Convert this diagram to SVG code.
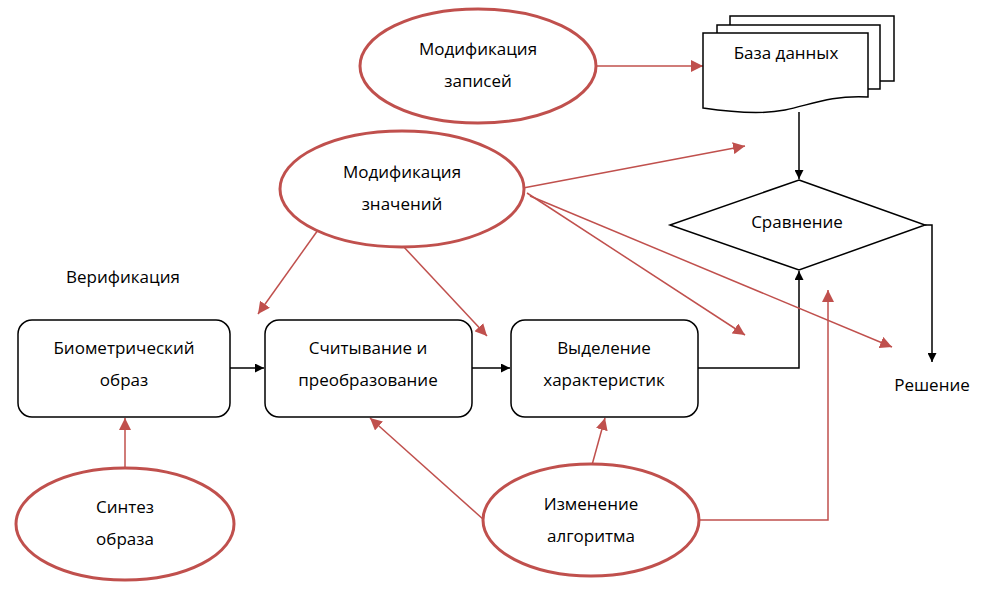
<svg xmlns="http://www.w3.org/2000/svg" width="994" height="600" viewBox="0 0 994 600">
<style>
text{font-family:"Open Sans","Liberation Sans",sans-serif;font-size:17px;fill:#000;text-anchor:middle}
.box{fill:#fff;stroke:#000;stroke-width:1.5}
.ell{fill:#fff;stroke:#c0504d;stroke-width:3}
.b{stroke:#000;stroke-width:1.5;fill:none}
.r{stroke:#c0504d;stroke-width:1.5;fill:none}
</style>
<defs>
<marker id="ab" viewBox="0 0 10 10" refX="10" refY="5" markerWidth="9" markerHeight="9" markerUnits="userSpaceOnUse" orient="auto"><path d="M0,0L10,5L0,10z" fill="#000"/></marker>
<marker id="ar" viewBox="0 0 10 10" refX="10" refY="5" markerWidth="12" markerHeight="12" markerUnits="userSpaceOnUse" orient="auto"><path d="M0,0L10,5L0,10z" fill="#c0504d"/></marker>
</defs>
<rect width="994" height="600" fill="#fff"/>
<g id="connectors">
<path class="b" d="M230,368H264" marker-end="url(#ab)"/>
<path class="b" d="M472,368H510" marker-end="url(#ab)"/>
<path class="b" d="M698,368H799V271" marker-end="url(#ab)"/>
<path class="b" d="M799,112V179" marker-end="url(#ab)"/>
<path class="b" d="M925,225H932V362" marker-end="url(#ab)"/>
<path class="r" d="M597,66H703" marker-end="url(#ar)"/>
<path class="r" d="M523,188L745,146" marker-end="url(#ar)"/>
<path class="r" d="M318,230L258,314" marker-end="url(#ar)"/>
<path class="r" d="M402,245L487,336" marker-end="url(#ar)"/>
<path class="r" d="M527,193L745,335" marker-end="url(#ar)"/>
<path class="r" d="M530,196L892,347" marker-end="url(#ar)"/>
<path class="r" d="M125,468V418" marker-end="url(#ar)"/>
<path class="r" d="M484,520L370,418" marker-end="url(#ar)"/>
<path class="r" d="M592,465L605,418" marker-end="url(#ar)"/>
<path class="r" d="M700,520H828V290" marker-end="url(#ar)"/>
</g>
<text x="123" y="283">Верификация</text>
<g id="bio"><rect class="box" x="18" y="320" width="212" height="97" rx="14"/><text x="124" y="354">Биометрический</text><text x="124" y="386">образ</text></g>
<g id="read"><rect class="box" x="265" y="320" width="207" height="97" rx="14"/><text x="368" y="354">Считывание и</text><text x="368" y="386">преобразование</text></g>
<g id="feat"><rect class="box" x="511" y="320" width="187" height="97" rx="14"/><text x="604" y="354">Выделение</text><text x="604" y="386">характеристик</text></g>
<g id="synth"><ellipse class="ell" cx="125" cy="524" rx="109" ry="56"/><text x="125" y="513">Синтез</text><text x="125" y="545">образа</text></g>
<g id="alg"><ellipse class="ell" cx="591" cy="520" rx="108" ry="56"/><text x="591" y="510">Изменение</text><text x="591" y="542">алгоритма</text></g>
<g id="vals"><ellipse class="ell" cx="402" cy="189" rx="122" ry="58"/><text x="402" y="178">Модификация</text><text x="402" y="210">значений</text></g>
<g id="recs"><ellipse class="ell" cx="478" cy="66" rx="118" ry="57"/><text x="478" y="55">Модификация</text><text x="478" y="87">записей</text></g>
<g id="db">
<rect class="box" x="730" y="16" width="164" height="65"/>
<rect class="box" x="717" y="25" width="163" height="64"/>
<path class="box" d="M703,33H868V97C830,95 810,105 785,110C760,115 730,112 703,108Z"/>
<text x="786" y="59">База данных</text>
</g>
<g id="cmp"><path class="box" d="M799,180L925,225L799,270L670,225Z"/><text x="797" y="228">Сравнение</text></g>
<g id="dec"><text x="932" y="391">Решение</text></g>
</svg>
